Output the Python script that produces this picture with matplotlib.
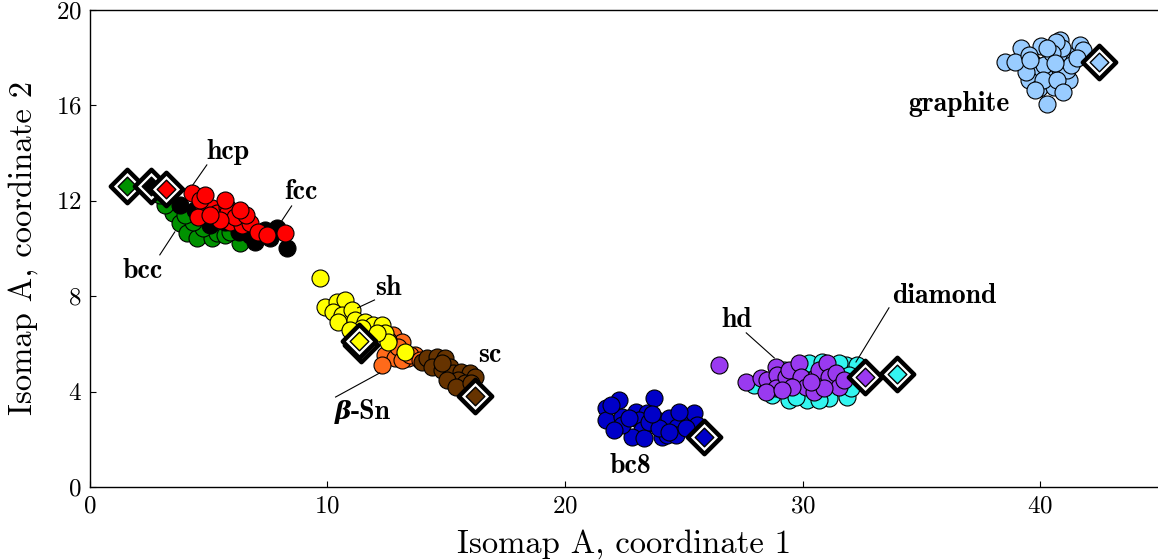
import matplotlib
matplotlib.use("Agg")
import matplotlib.pyplot as plt

plt.rcParams['font.family'] = ['cmr10', 'DejaVu Serif']
plt.rcParams['mathtext.fontset'] = 'cm'
plt.rcParams['axes.formatter.use_mathtext'] = True

# cluster points (isomap coordinates), one pair of lists per structure
bcc_x = [3.36, 3.49, 3.78, 4.08, 4.50, 5.13, 5.34, 4.75, 4.33, 6.31, 3.15, 3.99, 5.68, 5.89, 2.94]
bcc_y = [11.91, 11.49, 11.07, 10.65, 10.44, 10.44, 10.65, 10.86, 11.11, 10.23, 11.82, 11.40, 10.57, 10.69, 12.24]

fcc_x = [6.94, 7.86, 8.28, 7.57, 6.27, 7.36, 6.52, 5.68, 5.05, 4.42, 3.78, 6.73, 5.47, 4.63]
fcc_y = [10.27, 10.86, 10.02, 10.44, 10.69, 10.78, 10.99, 11.11, 10.99, 11.61, 11.82, 10.57, 11.53, 11.82]

hcp_x = [4.29, 4.71, 4.54, 5.13, 5.34, 5.76, 5.97, 5.89, 6.22, 6.39, 6.73, 7.06, 7.44, 8.20,
         5.80, 6.10, 4.63, 6.56, 5.47, 5.05, 4.84, 5.68, 6.31]
hcp_y = [12.33, 11.91, 11.32, 11.70, 11.49, 11.74, 11.49, 11.11, 11.28, 10.99, 11.07, 10.69, 10.57, 10.65,
         11.53, 11.32, 12.03, 11.40, 11.19, 11.40, 12.24, 12.03, 11.61]

bsn_x = [12.74, 12.70, 13.12, 12.41, 12.83, 13.37, 12.28, 13.67, 12.95, 13.12, 13.46, 13.88, 12.53]
bsn_y = [6.37, 5.95, 6.08, 5.53, 5.41, 5.41, 5.12, 5.53, 5.87, 5.32, 5.53, 5.32, 6.16]

sh_x = [9.67, 9.88, 10.39, 10.72, 10.22, 10.60, 11.02, 10.43, 11.14, 11.56, 11.90, 12.28, 12.41,
        12.53, 13.25, 11.44, 12.07, 10.93]
sh_y = [8.76, 7.55, 7.76, 7.84, 7.34, 7.21, 7.42, 6.92, 7.00, 6.92, 6.79, 6.79, 6.46,
        6.08, 5.66, 6.67, 6.46, 6.58]

sc_x = [13.96, 14.21, 14.59, 14.93, 14.42, 14.80, 15.14, 15.27, 15.64, 15.98, 15.48, 15.77, 15.05,
        15.43, 16.19, 14.80, 16.06]
sc_y = [5.24, 5.41, 5.45, 5.41, 5.03, 4.91, 5.03, 4.78, 4.82, 4.78, 4.49, 4.36, 4.49,
        4.19, 4.61, 5.20, 4.36]

bc8_x = [21.74, 22.29, 23.76, 21.74, 22.41, 23.00, 23.47, 23.89, 24.39, 24.73, 25.23, 25.44, 25.57,
         23.13, 23.26, 22.83, 23.34, 24.10, 24.31, 24.68, 25.10, 22.41, 22.71, 23.55, 23.97, 24.39,
         21.95, 23.68, 22.08, 24.81]
bc8_y = [3.31, 3.65, 3.73, 2.81, 2.94, 3.14, 3.10, 2.81, 2.89, 2.52, 2.73, 3.10, 2.60,
         2.81, 2.39, 2.10, 2.05, 2.10, 2.18, 2.18, 2.47, 2.60, 2.89, 2.73, 2.47, 2.31,
         3.44, 3.06, 2.39, 3.14]

dia_x = [27.96, 30.28, 31.83, 32.30, 29.44, 30.19, 31.12, 31.88, 28.72, 30.82, 31.54, 30.70,
         29.73, 29.23, 31.96, 32.04]
dia_y = [4.28, 5.20, 5.12, 5.12, 3.65, 3.65, 3.73, 3.77, 3.86, 5.24, 5.20, 3.65,
         3.77, 4.91, 4.70, 4.15]

hd_x = [27.63, 28.26, 28.51, 28.89, 28.93, 28.89, 28.47, 29.31, 29.44, 29.86, 29.94, 30.15, 30.49,
        30.57, 30.70, 31.03, 31.12, 31.41, 31.54, 31.75, 30.91, 29.56, 29.14, 30.36, 26.49]
hd_y = [4.40, 4.57, 4.49, 5.03, 4.70, 4.15, 3.98, 4.61, 4.91, 5.20, 4.61, 4.19, 3.98,
        4.61, 4.91, 5.20, 4.61, 4.78, 4.19, 4.49, 4.15, 4.19, 4.07, 4.40, 5.12]

gra_x = [38.52, 39.19, 39.70, 40.03, 40.83, 41.67, 41.80, 41.13, 40.45, 40.37, 39.82, 39.53, 39.95,
         40.58, 40.29, 41.21, 40.79, 41.42, 40.16, 39.40, 38.94, 39.53, 40.92, 40.66, 40.50, 41.13,
         41.30, 40.12, 39.78, 39.57, 40.71, 40.96, 41.55, 40.29, 40.62]
gra_y = [17.82, 18.41, 17.78, 18.49, 18.74, 18.53, 18.32, 18.11, 18.03, 17.32, 17.32, 17.06, 16.73,
         16.77, 16.06, 17.06, 17.61, 17.90, 17.69, 17.40, 17.82, 18.11, 18.41, 18.66, 18.20, 17.48,
         17.69, 17.06, 16.65, 17.90, 17.06, 16.56, 17.99, 18.41, 17.78]

# ideal (reference) structures
ideal_names = ['bcc', 'fcc', 'hcp', 'bsn', 'sh', 'sc', 'bc8', 'hd', 'diamond', 'graphite']
ideal_x = [1.56, 2.57, 3.20, 11.40, 11.31, 16.19, 25.86, 32.63, 33.98, 42.47]
ideal_y = [12.62, 12.62, 12.50, 5.95, 6.12, 3.82, 2.10, 4.61, 4.74, 17.82]

colors = {
    'bcc': '#009100', 'fcc': '#000000', 'hcp': '#ff0000', 'bsn': '#ff6a1a',
    'sh': '#ffff00', 'sc': '#663300', 'bc8': '#0000c8', 'hd': '#9a3af0',
    'diamond': '#33f5f0', 'graphite': '#99ccff',
}

clusters = [
    ('bcc', bcc_x, bcc_y), ('fcc', fcc_x, fcc_y), ('hcp', hcp_x, hcp_y),
    ('bsn', bsn_x, bsn_y), ('sh', sh_x, sh_y), ('sc', sc_x, sc_y),
    ('bc8', bc8_x, bc8_y), ('diamond', dia_x, dia_y), ('hd', hd_x, hd_y),
    ('graphite', gra_x, gra_y),
]

# labels: text, text position, leader line (start, end) or None
label_text = ['hcp', 'fcc', 'bcc', 'sh', 'β-Sn', 'sc', 'bc8', 'hd', 'diamond', 'graphite']
label_x = [5.80, 8.87, 2.23, 12.57, 11.14, 16.82, 22.75, 27.25, 35.95, 36.59]
label_y = [14.05, 12.37, 9.06, 8.34, 3.14, 5.53, 0.88, 7.00, 8.01, 16.06]
line_x0 = [4.92, 8.49, 2.94, 11.98, 10.34, None, None, 27.63, 33.64, None]
line_y0 = [13.50, 11.78, 9.73, 7.84, 3.77, None, None, 6.46, 7.51, None]
line_x1 = [4.33, 7.99, 3.57, 11.27, 12.20, None, None, 28.81, 32.25, None]
line_y1 = [12.66, 11.03, 10.69, 7.51, 4.78, None, None, 5.41, 5.24, None]

fig = plt.figure(figsize=(11.58, 5.60), dpi=100)
ax = fig.add_axes([0.0777, 0.1304, 0.923, 0.852])

for name, xs, ys in clusters:
    ax.scatter(xs, ys, s=150, c=colors[name], edgecolors='black', linewidths=0.8, zorder=2)

for name, x, y in zip(ideal_names, ideal_x, ideal_y):
    ax.scatter([x], [y], marker='D', s=17**2, c='white', edgecolors='black', linewidths=3.2, zorder=3)
    ax.scatter([x], [y], marker='D', s=9.5**2, c=colors[name], edgecolors='black', linewidths=1, zorder=3)

lab_font = ['cmb10', 'DejaVu Serif']
for t, tx, ty, x0, y0, x1, y1 in zip(label_text, label_x, label_y, line_x0, line_y0, line_x1, line_y1):
    if x0 is not None:
        ax.plot([x0, x1], [y0, y1], color='black', lw=0.8, zorder=4)
    if t.startswith('β'):
        ax.text(tx - 0.15, ty, 'β', family='DejaVu Serif', weight='bold', style='italic',
                ha='right', va='center', fontsize=18, zorder=5)
        ax.text(tx - 0.15, ty, '-Sn', family=lab_font, ha='left', va='center', fontsize=20, zorder=5)
    else:
        ax.text(tx, ty, t, family=lab_font, ha='center', va='center', fontsize=20, zorder=5)

ax.set_xlim(0, 45)
ax.set_ylim(0, 20)
ax.set_xticks([0, 10, 20, 30, 40])
ax.set_yticks([0, 4, 8, 12, 16, 20])
ax.tick_params(direction='in', labelsize=18, length=4, width=0.8, pad=6)
ax.set_xlabel('Isomap A, coordinate 1', fontsize=23.5, labelpad=8)
ax.set_ylabel('Isomap A, coordinate 2', fontsize=23.5, labelpad=13)
for sp in ax.spines.values():
    sp.set_linewidth(1.0)

fig.savefig('out.png', dpi=100)
